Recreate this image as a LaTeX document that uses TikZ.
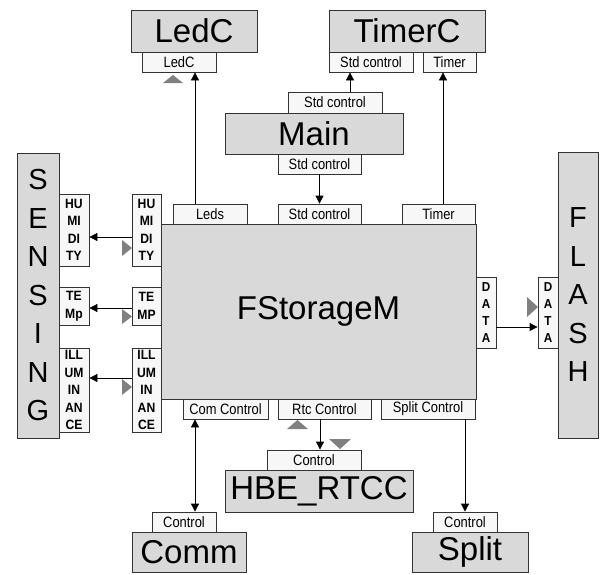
\documentclass[tikz,border=0pt]{standalone}
\usepackage{fontspec}
\setmainfont{Liberation Sans}
\newfontfamily\pf[FakeStretch=0.86]{Liberation Sans}
\newfontfamily\pfv[FakeStretch=0.9]{Liberation Sans}
\usetikzlibrary{arrows.meta}
\newcommand\bx[7]{\node[#6, minimum width={(#4)-(#2)}, minimum height={(#5)-(#3)}] (#1) at ({((#2)+(#4))/2},{((#3)+(#5))/2}) {#7};}
\begin{document}
\begin{tikzpicture}[x=1pt,y=-1pt,
 comp/.style={draw=black!80, line width=0.9pt, fill=gray!30, inner sep=0pt, font=\fontsize{33}{33}\selectfont},
 vcomp/.style={comp, align=center, font=\fontsize{29}{38.5}\selectfont},
 port/.style={draw=black!80, line width=0.8pt, fill=white!97!black, inner sep=0pt, font=\pf\fontsize{15}{15}\selectfont},
 vport/.style={port, align=center, font=\pfv\bfseries\fontsize{13.5}{17.5}\selectfont},
 dport/.style={port, align=center, font=\pfv\bfseries\fontsize{13}{16.7}\selectfont},
 arr/.style={line width=0.8pt, -{Triangle[length=8pt,width=8pt]}},
 darr/.style={line width=0.8pt, {Triangle[length=8pt,width=8pt]}-{Triangle[length=8pt,width=8pt]}},
 tri/.style={fill=black!50, draw=none}]
\useasboundingbox (0,0) rectangle (601,574);
% top components
\bx{ledc}{131}{10}{257}{52}{comp}{LedC}
\bx{ledcp}{142}{52}{216}{72}{port}{LedC}
\bx{timerc}{329}{10}{485}{52}{comp}{TimerC}
\bx{tcstd}{329}{52}{413}{72}{port}{Std control}
\bx{tctim}{423}{52}{476}{72}{port}{Timer}
\bx{mainp1}{288}{92}{382}{113}{port}{Std control}
\bx{main}{225}{113}{403}{154}{comp}{Main}
\bx{mainp2}{278}{154}{361}{174}{port}{Std control}
% central
\bx{fs}{161}{224}{476}{399}{comp}{FStorageM}
\bx{fsleds}{173}{204}{247}{224}{port}{Leds}
\bx{fsstd}{278}{204}{361}{224}{port}{Std control}
\bx{fstim}{402}{204}{475}{224}{port}{Timer}
\bx{fscom}{183}{399}{268}{419}{port}{Com Control}
\bx{fsrtc}{278}{399}{371}{419}{port}{Rtc Control}
\bx{fssplit}{381}{399}{475}{419}{port}{Split Control}
\bx{fshum}{132}{194}{161}{266}{vport}{HU\\MI\\DI\\TY}
\bx{fstemp}{132}{287}{161}{325}{vport}{TE\\MP}
\bx{fsill}{132}{348}{161}{432}{vport}{ILL\\UM\\IN\\AN\\CE}
\bx{fsdata}{476}{277}{496}{348}{dport}{D\\A\\T\\A}
% left
\bx{sensing}{17}{153}{59}{438}{vcomp}{S\\E\\N\\S\\I\\N\\G}
\bx{shum}{59}{194}{89}{266}{vport}{HU\\MI\\DI\\TY}
\bx{stemp}{59}{287}{89}{325}{vport}{TE\\Mp}
\bx{sill}{59}{348}{89}{432}{vport}{ILL\\UM\\IN\\AN\\CE}
% right
\bx{flash}{558}{152}{598}{438}{vcomp}{F\\L\\A\\S\\H}
\bx{fldata}{538}{277}{558}{348}{dport}{D\\A\\T\\A}
% bottom
\bx{hbep}{267}{450}{361}{470}{port}{Control}
\bx{hbe}{225}{470}{413}{512}{comp}{HBE\_RTCC}
\bx{commp}{152}{512}{216}{532}{port}{Control}
\bx{comm}{132}{532}{246}{572}{comp}{Comm}
\bx{splitp}{433}{512}{497}{532}{port}{Control}
\bx{split}{412}{532}{528}{572}{comp}{Split}
% coordinates for connector lines
\coordinate (xl) at (195,0);
\coordinate (xm) at (350,0);
\coordinate (xt) at (443,0);
\coordinate (yh) at (0,237);
\coordinate (yt) at (0,308);
\coordinate (yi) at (0,378);
\coordinate (yd) at (0,327);
\coordinate (xc) at (195,0);
\coordinate (xr) at (320,0);
% connectors
\draw[arr] (fsleds.north -| xl) -- (ledcp.south -| xl);
\draw[arr] (mainp1.north -| xm) -- (tcstd.south -| xm);
\draw[arr] (mainp2.south) -- (fsstd.north);
\draw[arr] (fstim.north -| xt) -- (tctim.south -| xt);
\draw[arr] (fshum.west |- yh) -- (shum.east |- yh);
\draw[arr] (fstemp.west |- yt) -- (stemp.east |- yt);
\draw[arr] (fsill.west |- yi) -- (sill.east |- yi);
\draw[arr] (fsdata.east |- yd) -- (fldata.west |- yd);
\draw[darr] (fscom.south -| xc) -- (commp.north -| xc);
\draw[arr] (fsrtc.south -| xr) -- (hbep.north -| xr);
\draw[arr] (fssplit.south -| splitp.north) -- (splitp.north);
% gray direction markers
\fill[tri] (163,83) -- (183,83) -- (173,75) -- cycle;
\fill[tri] (122,240) -- (122,256) -- (132,248) -- cycle;
\fill[tri] (122,309) -- (122,324) -- (132,316.5) -- cycle;
\fill[tri] (122,379) -- (122,395) -- (132,387) -- cycle;
\fill[tri] (527,297) -- (527,317) -- (538,307) -- cycle;
\fill[tri] (287,429) -- (308,429) -- (297.5,420) -- cycle;
\fill[tri] (329,439) -- (351,439) -- (340,449) -- cycle;
\end{tikzpicture}
\end{document}
